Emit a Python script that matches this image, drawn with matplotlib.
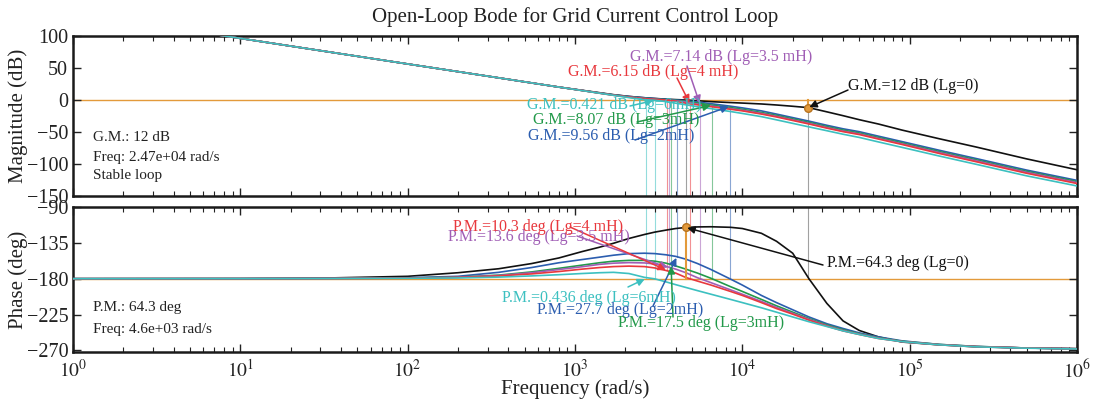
import math
import matplotlib
matplotlib.use('Agg')
import matplotlib.pyplot as plt
from matplotlib.ticker import LogLocator, FixedLocator, NullFormatter, FuncFormatter

plt.rcParams['font.family'] = ['Liberation Serif', 'DejaVu Serif']
plt.rcParams['mathtext.fontset'] = 'stix'

# ---------------- data ----------------
freq = [1, 10, 30, 100, 200, 350, 550, 800, 1100, 1400, 1700, 2100, 2600, 3000, 3500, 4000,
        4600, 5400, 6500, 8500, 10000, 13000, 16000, 20000, 25000, 32000, 40000, 50000,
        65000, 90000, 150000, 250000, 500000, 1000000]

series = ['Lg=0', 'Lg=2mH', 'Lg=3mH', 'Lg=3.5mH', 'Lg=4mH', 'Lg=6mH']

mag_black = [136.3, 96.3, 77.2, 56.3, 44.3, 34.6, 26.7, 20.2, 15.2, 11.4, 8.3, 5.6, 3.5, 2.4, 1.3, 0.6,
             0.0, -1.2, -2.6, -4.0, -4.8, -6.2, -7.8, -9.8, -12.0, -18.5, -24.5, -30.8,
             -37.5, -47.0, -60.5, -73.5, -92.0, -109.0]
mag_blue = [136.3, 96.3, 77.2, 56.3, 44.3, 34.6, 26.7, 20.2, 15.0, 11.0, 8.0, 5.5, 3.5, 2.2, 1.0, 0.1,
            -1.2, -3.0, -5.8, -9.7, -12.3, -17.0, -22.0, -27.5, -33.0, -39.5, -45.0, -49.5,
            -56.5, -65.0, -78.5, -91.5, -109.5, -125.6]
mag_green = [136.3, 96.3, 77.2, 56.3, 44.3, 34.6, 26.7, 20.2, 14.9, 10.9, 7.8, 5.0, 2.8, 1.5, 0.4, -0.6,
             -2.2, -4.6, -7.9, -11.8, -14.5, -19.5, -24.0, -29.5, -35.0, -41.5, -47.0, -51.5,
             -58.5, -67.0, -80.5, -93.5, -111.5, -127.5]
mag_purple = [136.3, 96.3, 77.2, 56.3, 44.3, 34.6, 26.7, 20.2, 14.9, 10.8, 7.6, 4.7, 2.4, 1.1, 0.1, -1.2,
              -3.2, -6.5, -9.5, -13.5, -16.0, -21.0, -25.5, -31.0, -36.5, -43.0, -48.5, -53.0,
              -60.0, -68.5, -82.0, -95.0, -113.0, -129.0]
mag_red = [136.3, 96.3, 77.2, 56.3, 44.3, 34.6, 26.7, 20.2, 14.9, 10.7, 7.4, 4.4, 2.0, 0.9, 0.0, -1.8,
           -5.1, -7.6, -10.4, -14.5, -17.0, -22.0, -26.5, -32.0, -37.5, -44.0, -49.5, -54.0,
           -61.0, -69.5, -83.5, -96.5, -114.5, -130.5]
mag_cyan = [136.3, 96.3, 77.2, 56.3, 44.3, 34.6, 26.7, 20.2, 14.8, 10.6, 7.3, 3.7, 0.3, -0.45, -2.5, -5.0,
            -7.5, -10.5, -13.5, -18.0, -21.0, -26.0, -31.0, -36.5, -42.0, -48.0, -53.5, -58.5,
            -65.5, -74.0, -87.5, -100.5, -118.5, -134.3]

ph_black = [-180.0, -179.9, -179.3, -177.0, -172.5, -167.5, -161.0, -154.0, -146.0, -140.5, -135.5, -129.5,
            -124.5, -121.5, -119.0, -117.0, -115.7, -115.0, -114.8, -115.5, -117.0, -123.0, -133.0, -148.0,
            -180.0, -211.0, -233.0, -245.0, -253.0, -259.5, -263.0, -265.5, -267.0, -267.8]
ph_blue = [-180.0, -179.9, -179.6, -178.8, -177.0, -172.0, -166.0, -160.0, -156.0, -153.0, -150.5, -148.5,
           -148.0, -148.5, -150.0, -152.0, -155.5, -161.0, -168.5, -180.5, -188.0, -201.0, -210.0, -219.0,
           -228.0, -236.5, -242.5, -248.0, -253.0, -258.0, -262.5, -265.0, -267.0, -268.0]
ph_green = [-180.0, -179.9, -179.7, -179.2, -178.0, -175.5, -171.5, -167.0, -163.0, -160.0, -158.0, -157.0,
            -157.0, -158.0, -160.5, -164.0, -168.0, -173.0, -179.5, -190.0, -196.0, -206.0, -214.0, -222.0,
            -230.0, -238.0, -244.0, -249.0, -254.0, -258.5, -262.5, -265.0, -267.0, -268.0]
ph_purple = [-180.0, -179.9, -179.7, -179.3, -178.2, -176.0, -172.5, -168.5, -165.0, -162.0, -160.5, -159.8,
             -160.2, -161.5, -164.5, -168.0, -172.5, -178.8, -185.0, -194.0, -199.5, -208.5, -216.0, -223.5,
             -231.0, -239.0, -245.0, -249.5, -254.5, -259.0, -262.8, -265.2, -267.0, -268.0]
ph_red = [-180.0, -179.9, -179.8, -179.4, -178.5, -176.5, -174.0, -171.0, -168.0, -166.0, -164.8, -164.2,
          -164.8, -166.5, -169.7, -173.0, -178.5, -183.0, -188.0, -196.0, -201.0, -210.0, -217.5, -224.5,
          -232.0, -239.5, -245.5, -250.0, -255.0, -259.0, -263.0, -265.3, -267.0, -268.0]
ph_cyan = [-180.0, -179.9, -179.8, -179.5, -179.0, -178.0, -176.5, -175.0, -173.5, -172.5, -172.0, -173.5,
           -178.3, -180.2, -184.0, -187.5, -191.0, -195.0, -199.5, -206.0, -210.0, -216.5, -222.0, -228.0,
           -234.0, -240.0, -245.5, -250.0, -255.0, -259.0, -263.0, -265.5, -267.2, -268.2]

# stability margins per series
w_gc = [4600, 4070, 3750, 3650, 3550, 2660]      # gain crossover (rad/s)
w_pc = [24700, 8440, 6590, 5590, 4870, 2990]     # phase crossover (rad/s)
gm_db = [12, 9.56, 8.07, 7.14, 6.15, 0.421]
pm_deg = [64.3, 27.7, 17.5, 13.6, 10.3, 0.436]

mags = [mag_black, mag_blue, mag_green, mag_purple, mag_red, mag_cyan]
phs = [ph_black, ph_blue, ph_green, ph_purple, ph_red, ph_cyan]
colors = ['#111111', '#2B5DAF', '#22994A', '#A05EB5', '#E8383D', '#3CC0C0']
orange = '#E39A3B'

# ---------------- figure ----------------
W, H = 1094, 405
fig = plt.figure(figsize=(W / 100, H / 100), dpi=100)

def ax_rect(l, t, r, b):
    return [l / W, 1 - b / H, (r - l) / W, (b - t) / H]

ax1 = fig.add_axes(ax_rect(73, 36, 1077, 196))
ax2 = fig.add_axes(ax_rect(73, 207, 1077, 352))

for ax in (ax1, ax2):
    ax.set_xscale('log')
    ax.set_xlim(1, 1e6)
    ax.xaxis.set_major_locator(LogLocator(base=10, numticks=10))
    ax.xaxis.set_minor_locator(LogLocator(base=10, subs=range(2, 10), numticks=20))
    ax.xaxis.set_minor_formatter(NullFormatter())
    ax.tick_params(which='both', direction='in', top=True, right=True, labelsize=14.5, colors='#222222')
    ax.tick_params(which='major', length=6, width=1.0)
    ax.tick_params(which='minor', length=3.5, width=0.8)
    for s in ax.spines.values():
        s.set_linewidth(1.8)
        s.set_color('#1a1a1a')

ax1.set_ylim(-150, 100)
ax1.yaxis.set_major_locator(FixedLocator([-150, -100, -50, 0, 50, 100]))
ax1.xaxis.set_major_formatter(NullFormatter())
ax2.set_ylim(-272, -90)
ax2.yaxis.set_major_locator(FixedLocator([-270, -225, -180, -135, -90]))
ax2.xaxis.set_major_formatter(FuncFormatter(lambda v, p: r'$10^{%d}$' % round(math.log10(v))))
ax2.tick_params(axis='x', which='major', pad=5, labelsize=14)

# reference lines
ax1.axhline(0, color=orange, lw=1.0, zorder=1)
ax2.axhline(-180, color=orange, lw=1.0, zorder=1)

# margin indicator lines
for i in range(len(series)):
    c = colors[i] if i > 0 else '#555555'
    a = 0.55
    ax1.plot([w_pc[i], w_pc[i]], [-gm_db[i], -150], color=c, lw=0.8, alpha=a, zorder=1)
    ax1.plot([w_gc[i], w_gc[i]], [0, -150], color=c, lw=0.8, alpha=a, zorder=1)
    ax2.plot([w_pc[i], w_pc[i]], [-90, -180], color=c, lw=0.8, alpha=a, zorder=1)
    ax2.plot([w_gc[i], w_gc[i]], [-90, -180 + pm_deg[i]], color=c, lw=0.8, alpha=a, zorder=1)

# curves
for i in range(len(series)):
    ax1.plot(freq, mags[i], color=colors[i], lw=1.2, zorder=3, label=series[i])
    ax2.plot(freq, phs[i], color=colors[i], lw=1.2, zorder=3, label=series[i])

# selected-system margin markers (Lg=0)
ax1.plot([w_pc[0], w_pc[0]], [0, -gm_db[0]], color=orange, lw=1.5, zorder=4)
ax1.plot([w_pc[0]], [-gm_db[0]], 'o', color=orange, ms=5.5, mec='#B87420', zorder=5)
ax2.plot([w_gc[0], w_gc[0]], [-180, -180 + pm_deg[0]], color=orange, lw=1.5, zorder=4)
ax2.plot([w_gc[0]], [-180 + pm_deg[0]], 'o', color=orange, ms=5.5, mec='#B87420', zorder=5)

# annotations (text left x, text center y, arrow tail x, y in figure pixels from top)
fs = 11.5
gm_texts = ['G.M.=12 dB (Lg=0)', 'G.M.=9.56 dB (Lg=2mH)', 'G.M.=8.07 dB (Lg=3mH)',
            'G.M.=7.14 dB (Lg=3.5 mH)', 'G.M.=6.15 dB (Lg=4 mH)', 'G.M.=0.421 dB (Lg=6mH)']
gm_pos = [(848, 86, 848, 90), (528, 136, 635, 140), (533, 120, 637, 122),
          (630, 57, 687, 66), (568, 72, 677, 78), (527, 105, 630, 106)]
pm_texts = ['P.M.=64.3 deg (Lg=0)', 'P.M.=27.7 deg (Lg=2mH)', 'P.M.=17.5 deg (Lg=3mH)',
            'P.M.=13.6 deg (Lg=3.5 mH)', 'P.M.=10.3 deg (Lg=4 mH)', 'P.M.=0.436 deg (Lg=6mH)']
pm_pos = [(827, 263, 823, 265), (537, 310, 653, 306), (618, 323, 673, 317),
          (448, 237, 577, 236), (453, 227, 570, 227), (502, 298, 628, 287)]

for i in range(len(series)):
    c = colors[i]
    tx, ty, ax_, ay_ = gm_pos[i]
    fig.text(tx / W, 1 - ty / H, gm_texts[i], color=c, fontsize=fs, ha='left', va='center', zorder=6)
    ax1.annotate('', xy=(w_pc[i], -gm_db[i]), xycoords='data',
                 xytext=(ax_, H - ay_), textcoords='figure pixels',
                 arrowprops=dict(arrowstyle='-|>', color=c, lw=1.1, mutation_scale=11,
                                 shrinkA=0, shrinkB=1), zorder=6)
    tx, ty, ax_, ay_ = pm_pos[i]
    fig.text(tx / W, 1 - ty / H, pm_texts[i], color=c, fontsize=fs, ha='left', va='center', zorder=6)
    ax2.annotate('', xy=(w_gc[i], -180 + pm_deg[i]), xycoords='data',
                 xytext=(ax_, H - ay_), textcoords='figure pixels',
                 arrowprops=dict(arrowstyle='-|>', color=c, lw=1.1, mutation_scale=11,
                                 shrinkA=0, shrinkB=1), zorder=6)

# info boxes
info_fs = 11
for txt, y in [('G.M.: 12 dB', 137), ('Freq: 2.47e+04 rad/s', 157), ('Stable loop', 176)]:
    fig.text(93 / W, 1 - y / H, txt, fontsize=info_fs, color='#222222', ha='left', va='center')
for txt, y in [('P.M.: 64.3 deg', 307), ('Freq: 4.6e+03 rad/s', 330)]:
    fig.text(93 / W, 1 - y / H, txt, fontsize=info_fs, color='#222222', ha='left', va='center')

# labels
fig.text(575 / W, 1 - 17 / H, 'Open-Loop Bode for Grid Current Control Loop', fontsize=15,
         ha='center', va='center', color='#222222')
fig.text(18 / W, 1 - 116 / H, 'Magnitude (dB)', fontsize=15, rotation=90, ha='center', va='center',
         color='#222222')
fig.text(18 / W, 1 - 280 / H, 'Phase (deg)', fontsize=15, rotation=90, ha='center', va='center',
         color='#222222')
fig.text(575 / W, 1 - 389 / H, 'Frequency (rad/s)', fontsize=15, ha='center', va='center',
         color='#222222')

fig.savefig('out.png', dpi=100)
